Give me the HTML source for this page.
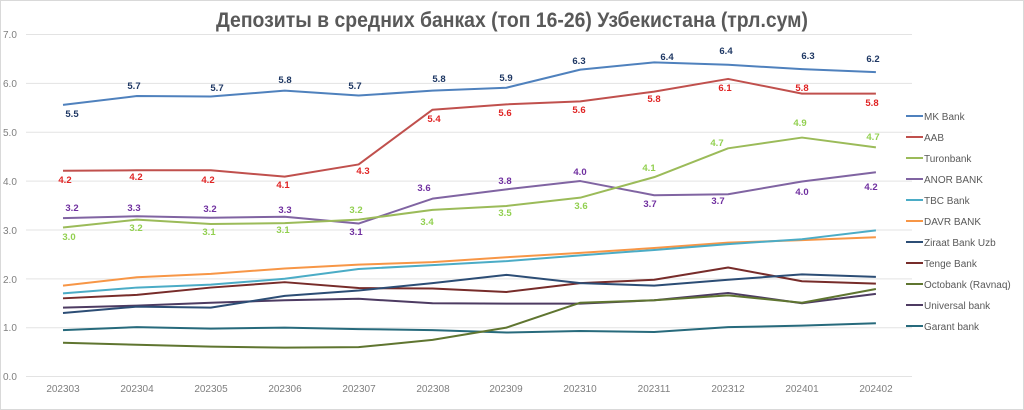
<!DOCTYPE html>
<html><head><meta charset="utf-8"><style>
html,body{margin:0;padding:0;background:#fff;}
svg{display:block;font-family:"Liberation Sans","Noto Sans CJK SC",sans-serif;}
.p{fill:none;stroke-width:2;vector-effect:non-scaling-stroke;stroke-linejoin:round;}
.ax{font-size:10px;fill:#7f7f7f;}
.lg{font-size:10px;fill:#595959;}
.l{font-size:9.5px;font-weight:bold;text-anchor:middle;}
.mk{fill:#1f3864}.aab{fill:#e02424}.tu{fill:#92d050}.an{fill:#7030a0}
</style></head><body>
<svg width="1024" height="410" viewBox="0 0 1024 410">
<rect x="0.5" y="0.5" width="1023" height="409" fill="#fff" stroke="#d9d9d9"/>
<text x="512" y="27" text-anchor="middle" font-size="21" font-weight="bold" fill="#595959" textLength="592" lengthAdjust="spacingAndGlyphs">Депозиты в средних банках (топ 16-26) Узбекистана (трл.сум)</text>
<g stroke="#e3e3e3" stroke-width="1">
<line x1="26" x2="912" y1="34.5" y2="34.5"/><line x1="26" x2="912" y1="83.4" y2="83.4"/>
<line x1="26" x2="912" y1="132.3" y2="132.3"/><line x1="26" x2="912" y1="181.1" y2="181.1"/>
<line x1="26" x2="912" y1="230" y2="230"/><line x1="26" x2="912" y1="278.9" y2="278.9"/>
<line x1="26" x2="912" y1="327.7" y2="327.7"/><line x1="26" x2="912" y1="376.5" y2="376.5"/>
</g>
<g class="ax">
<text x="3" y="38">7.0</text><text x="3" y="87">6.0</text><text x="3" y="136">5.0</text><text x="3" y="185">4.0</text>
<text x="3" y="234">3.0</text><text x="3" y="283">2.0</text><text x="3" y="331">1.0</text><text x="3" y="380">0.0</text>
</g>
<g class="ax" text-anchor="middle">
<text x="63" y="392">202303</text><text x="137" y="392">202304</text><text x="211" y="392">202305</text><text x="285" y="392">202306</text>
<text x="359" y="392">202307</text><text x="433" y="392">202308</text><text x="506" y="392">202309</text><text x="580" y="392">202310</text>
<text x="654" y="392">202311</text><text x="728" y="392">202312</text><text x="802" y="392">202401</text><text x="876" y="392">202402</text>
</g>
<g transform="translate(63 376) scale(73.9 -48.86)">
<polyline class="p" stroke="#276a7c" points="0,0.94 1,1.0 2,0.97 3,0.99 4,0.96 5,0.94 6,0.89 7,0.92 8,0.9 9,1.0 10,1.03 11,1.08"/>
<polyline class="p" stroke="#4d3b62" points="0,1.4 1,1.44 2,1.5 3,1.55 4,1.58 5,1.49 6,1.48 7,1.48 8,1.55 9,1.7 10,1.49 11,1.68"/>
<polyline class="p" stroke="#5f7530" points="0,0.68 1,0.64 2,0.6 3,0.58 4,0.59 5,0.74 6,0.99 7,1.5 8,1.55 9,1.65 10,1.5 11,1.78"/>
<polyline class="p" stroke="#772c2a" points="0,1.59 1,1.66 2,1.81 3,1.92 4,1.8 5,1.79 6,1.72 7,1.9 8,1.97 9,2.22 10,1.94 11,1.89"/>
<polyline class="p" stroke="#2c4d75" points="0,1.29 1,1.42 2,1.4 3,1.64 4,1.75 5,1.9 6,2.07 7,1.9 8,1.85 9,1.97 10,2.08 11,2.03"/>
<polyline class="p" stroke="#f79646" points="0,1.85 1,2.02 2,2.09 3,2.2 4,2.28 5,2.33 6,2.43 7,2.52 8,2.62 9,2.73 10,2.78 11,2.84"/>
<polyline class="p" stroke="#4bacc6" points="0,1.69 1,1.81 2,1.87 3,1.99 4,2.19 5,2.27 6,2.35 7,2.47 8,2.58 9,2.7 10,2.8 11,2.98"/>
<polyline class="p" stroke="#8064a2" points="0,3.23 1,3.27 2,3.24 3,3.26 4,3.12 5,3.63 6,3.82 7,3.99 8,3.7 9,3.72 10,3.98 11,4.17"/>
<polyline class="p" stroke="#9bbb59" points="0,3.04 1,3.2 2,3.11 3,3.13 4,3.2 5,3.4 6,3.48 7,3.65 8,4.07 9,4.66 10,4.88 11,4.68"/>
<polyline class="p" stroke="#c0504d" points="0,4.2 1,4.21 2,4.21 3,4.08 4,4.33 5,5.45 6,5.56 7,5.62 8,5.82 9,6.08 10,5.78 11,5.78"/>
<polyline class="p" stroke="#4f81bd" points="0,5.55 1,5.73 2,5.72 3,5.84 4,5.74 5,5.84 6,5.9 7,6.27 8,6.42 9,6.37 10,6.28 11,6.22"/>
</g>
<g class="l">
<g class="mk"><text x="72" y="117">5.5</text><text x="134" y="89">5.7</text><text x="217" y="91">5.7</text><text x="285" y="83">5.8</text><text x="355" y="89">5.7</text><text x="439" y="82">5.8</text><text x="506" y="81">5.9</text><text x="579" y="64">6.3</text><text x="667" y="60">6.4</text><text x="726" y="54">6.4</text><text x="808" y="59">6.3</text><text x="873" y="62">6.2</text></g>
<g class="aab"><text x="65" y="183">4.2</text><text x="136" y="180">4.2</text><text x="208" y="183">4.2</text><text x="283" y="188">4.1</text><text x="363" y="174">4.3</text><text x="434" y="122">5.4</text><text x="505" y="116">5.6</text><text x="579" y="113">5.6</text><text x="654" y="102">5.8</text><text x="725" y="91">6.1</text><text x="802" y="91">5.8</text><text x="872" y="106">5.8</text></g>
<g class="tu"><text x="69" y="240">3.0</text><text x="136" y="231">3.2</text><text x="209" y="235">3.1</text><text x="283" y="233">3.1</text><text x="356" y="213">3.2</text><text x="427" y="225">3.4</text><text x="505" y="216">3.5</text><text x="581" y="209">3.6</text><text x="649" y="171">4.1</text><text x="717" y="146">4.7</text><text x="800" y="126">4.9</text><text x="873" y="140">4.7</text></g>
<g class="an"><text x="72" y="211">3.2</text><text x="134" y="211">3.3</text><text x="210" y="212">3.2</text><text x="285" y="213">3.3</text><text x="356" y="235">3.1</text><text x="424" y="191">3.6</text><text x="505" y="184">3.8</text><text x="580" y="175">4.0</text><text x="650" y="207">3.7</text><text x="718" y="204">3.7</text><text x="802" y="195">4.0</text><text x="871" y="190">4.2</text></g>
</g>
<g stroke-width="2">
<line x1="906" x2="923" y1="116" y2="116" stroke="#4f81bd"/><line x1="906" x2="923" y1="137" y2="137" stroke="#c0504d"/>
<line x1="906" x2="923" y1="158" y2="158" stroke="#9bbb59"/><line x1="906" x2="923" y1="179" y2="179" stroke="#8064a2"/>
<line x1="906" x2="923" y1="200" y2="200" stroke="#4bacc6"/><line x1="906" x2="923" y1="221" y2="221" stroke="#f79646"/>
<line x1="906" x2="923" y1="242" y2="242" stroke="#2c4d75"/><line x1="906" x2="923" y1="263" y2="263" stroke="#772c2a"/>
<line x1="906" x2="923" y1="284" y2="284" stroke="#5f7530"/><line x1="906" x2="923" y1="305" y2="305" stroke="#4d3b62"/>
<line x1="906" x2="923" y1="326" y2="326" stroke="#276a7c"/>
</g>
<g class="lg">
<text x="924" y="120">MK Bank</text><text x="924" y="141">AAB</text><text x="924" y="162">Turonbank</text><text x="924" y="183">ANOR BANK</text>
<text x="924" y="204">TBC Bank</text><text x="924" y="225">DAVR BANK</text><text x="924" y="246">Ziraat Bank Uzb</text><text x="924" y="267">Tenge Bank</text>
<text x="924" y="288">Octobank (Ravnaq)</text><text x="924" y="309">Universal bank</text><text x="924" y="330">Garant bank</text>
</g>
</svg>
</body></html>
